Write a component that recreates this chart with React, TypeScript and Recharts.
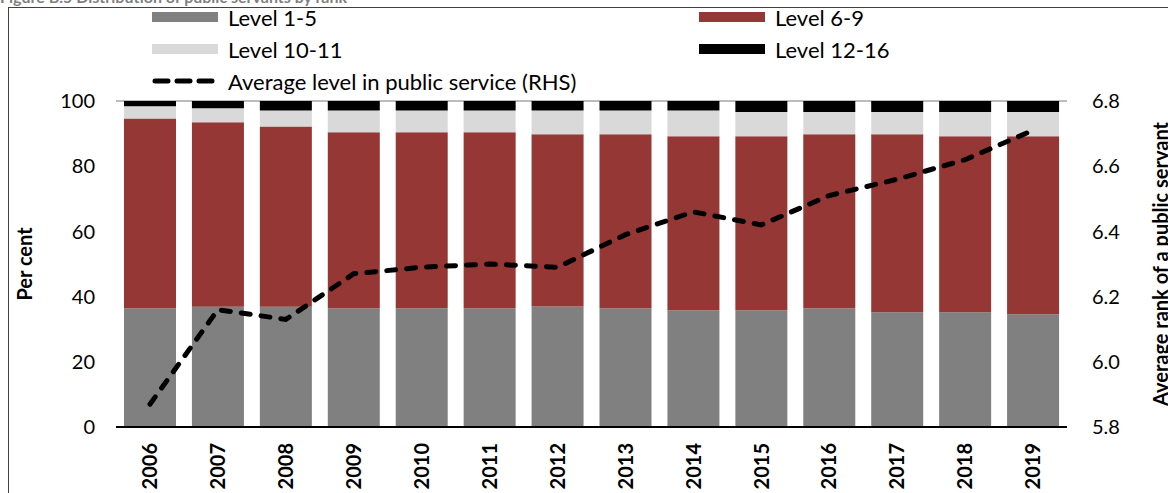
import React from "react";
import { ComposedChart, Bar, Line, XAxis, YAxis, CartesianGrid } from "recharts";

const years = ["2006", "2007", "2008", "2009", "2010", "2011", "2012", "2013", "2014", "2015", "2016", "2017", "2018", "2019"];
const level1to5 = [36.4, 36.9, 36.9, 36.4, 36.4, 36.4, 37.0, 36.4, 35.8, 35.8, 36.4, 35.2, 35.2, 34.6];
const level6to9 = [58.2, 56.6, 55.3, 54.0, 54.0, 54.0, 52.8, 53.4, 53.4, 53.4, 53.4, 54.6, 54.0, 54.6];
const level10to11 = [3.8, 4.3, 4.9, 6.7, 6.7, 6.7, 7.3, 7.3, 7.9, 7.4, 6.8, 6.8, 7.4, 7.4];
const level12to16 = [1.6, 2.2, 2.9, 2.9, 2.9, 2.9, 2.9, 2.9, 2.9, 3.4, 3.4, 3.4, 3.4, 3.4];
const avgLevel = [5.87, 6.16, 6.13, 6.27, 6.29, 6.30, 6.29, 6.39, 6.46, 6.42, 6.51, 6.56, 6.62, 6.71];

const leftTicks = [0, 20, 40, 60, 80, 100];
const rightTicks = [5.8, 6.0, 6.2, 6.4, 6.6, 6.8];

const data = years.map((y, i) => ({
  year: y,
  l1: level1to5[i],
  l2: level6to9[i],
  l3: level10to11[i],
  l4: level12to16[i],
  avg: avgLevel[i],
}));

const FONT = "Lato, 'Open Sans', sans-serif";

const YearTick = (props: any) => {
  const { x, payload } = props;
  return (
    <g transform={`translate(${x},443)`}>
      <text transform="rotate(-90)" textAnchor="end" dy="0.36em" fontSize={20} fontWeight="bold" fontFamily={FONT} fill="#000">
        {payload.value}
      </text>
    </g>
  );
};

// legend sits above the plot, two columns + the line entry
const legendItems = [
  { label: "Level 1-5", color: "#808080", x: 152, y: 17 },
  { label: "Level 6-9", color: "#953735", x: 699, y: 17 },
  { label: "Level 10-11", color: "#d9d9d9", x: 152, y: 49 },
  { label: "Level 12-16", color: "#000000", x: 699, y: 49 },
];

export default function App() {
  return (
    <div style={{ position: "absolute", left: 0, top: 0, width: 1168, height: 493, overflow: "hidden", background: "#fff", fontFamily: FONT }}>
      <div style={{ position: "absolute", left: 8, top: 7, width: 1200, height: 600, border: "1px solid #404040" }} />
      <div style={{ position: "absolute", left: 0, top: -13, fontSize: 16, fontWeight: "bold", color: "#7f7f7f", whiteSpace: "nowrap" }}>
        Figure B.5 Distribution of public servants by rank
      </div>
      <ComposedChart
        width={1168}
        height={493}
        data={data}
        margin={{ top: 101, right: 0, bottom: 0, left: 0 }}
        barCategoryGap={8}
        style={{ position: "absolute", left: 0, top: 0 }}
      >
        <CartesianGrid vertical={false} stroke="#a6a6a6" strokeWidth={1.5} />
        <XAxis
          dataKey="year"
          height={66}
          tick={<YearTick />}
          tickLine={false}
          axisLine={{ stroke: "#000", strokeWidth: 2 }}
          interval={0}
        />
        <YAxis
          yAxisId="left"
          width={116}
          domain={[0, 100]}
          ticks={leftTicks}
          axisLine={false}
          tickLine={false}
          tickMargin={15}
          tick={{ fontSize: 20, fill: "#000", fontFamily: FONT }}
          label={{ value: "Per cent", angle: -90, position: "insideLeft", dx: 20, style: { fontSize: 20, fontWeight: "bold", fill: "#000", fontFamily: FONT, textAnchor: "middle" } }}
        />
        <YAxis
          yAxisId="right"
          orientation="right"
          width={101}
          domain={[5.8, 6.8]}
          ticks={rightTicks}
          allowDataOverflow
          axisLine={false}
          tickLine={false}
          tickMargin={19}
          tickFormatter={(v: number) => v.toFixed(1)}
          tick={{ fontSize: 20, fill: "#000", fontFamily: FONT, textAnchor: "start" }}
          label={{ value: "Average rank of a public servant", angle: -90, position: "insideRight", dx: -2, style: { fontSize: 20, fontWeight: "bold", fill: "#000", fontFamily: FONT, textAnchor: "middle" } }}
        />
        <Bar yAxisId="left" dataKey="l1" stackId="a" fill="#808080" isAnimationActive={false} />
        <Bar yAxisId="left" dataKey="l2" stackId="a" fill="#953735" isAnimationActive={false} />
        <Bar yAxisId="left" dataKey="l3" stackId="a" fill="#d9d9d9" isAnimationActive={false} />
        <Bar yAxisId="left" dataKey="l4" stackId="a" fill="#000000" isAnimationActive={false} />
        <Line
          yAxisId="right"
          dataKey="avg"
          stroke="#000"
          strokeWidth={5}
          strokeDasharray="9 11"
          strokeLinecap="round"
          dot={false}
          activeDot={false}
          isAnimationActive={false}
        />
      </ComposedChart>
      {legendItems.map((it) => (
        <div key={it.label} style={{ position: "absolute", left: it.x, top: it.y - 13, height: 26, display: "flex", alignItems: "center", fontSize: 22, color: "#000", whiteSpace: "nowrap" }}>
          <div style={{ width: 66, height: 10, background: it.color, marginRight: 10 }} />
          {it.label}
        </div>
      ))}
      <div style={{ position: "absolute", left: 152, top: 81 - 13, height: 26, display: "flex", alignItems: "center", fontSize: 22, color: "#000", whiteSpace: "nowrap" }}>
        <svg width={66} height={10} style={{ marginRight: 10 }}>
          <line x1={3} y1={5} x2={63} y2={5} stroke="#000" strokeWidth={5} strokeDasharray="13 9" strokeLinecap="round" />
        </svg>
        Average level in public service (RHS)
      </div>
    </div>
  );
}
